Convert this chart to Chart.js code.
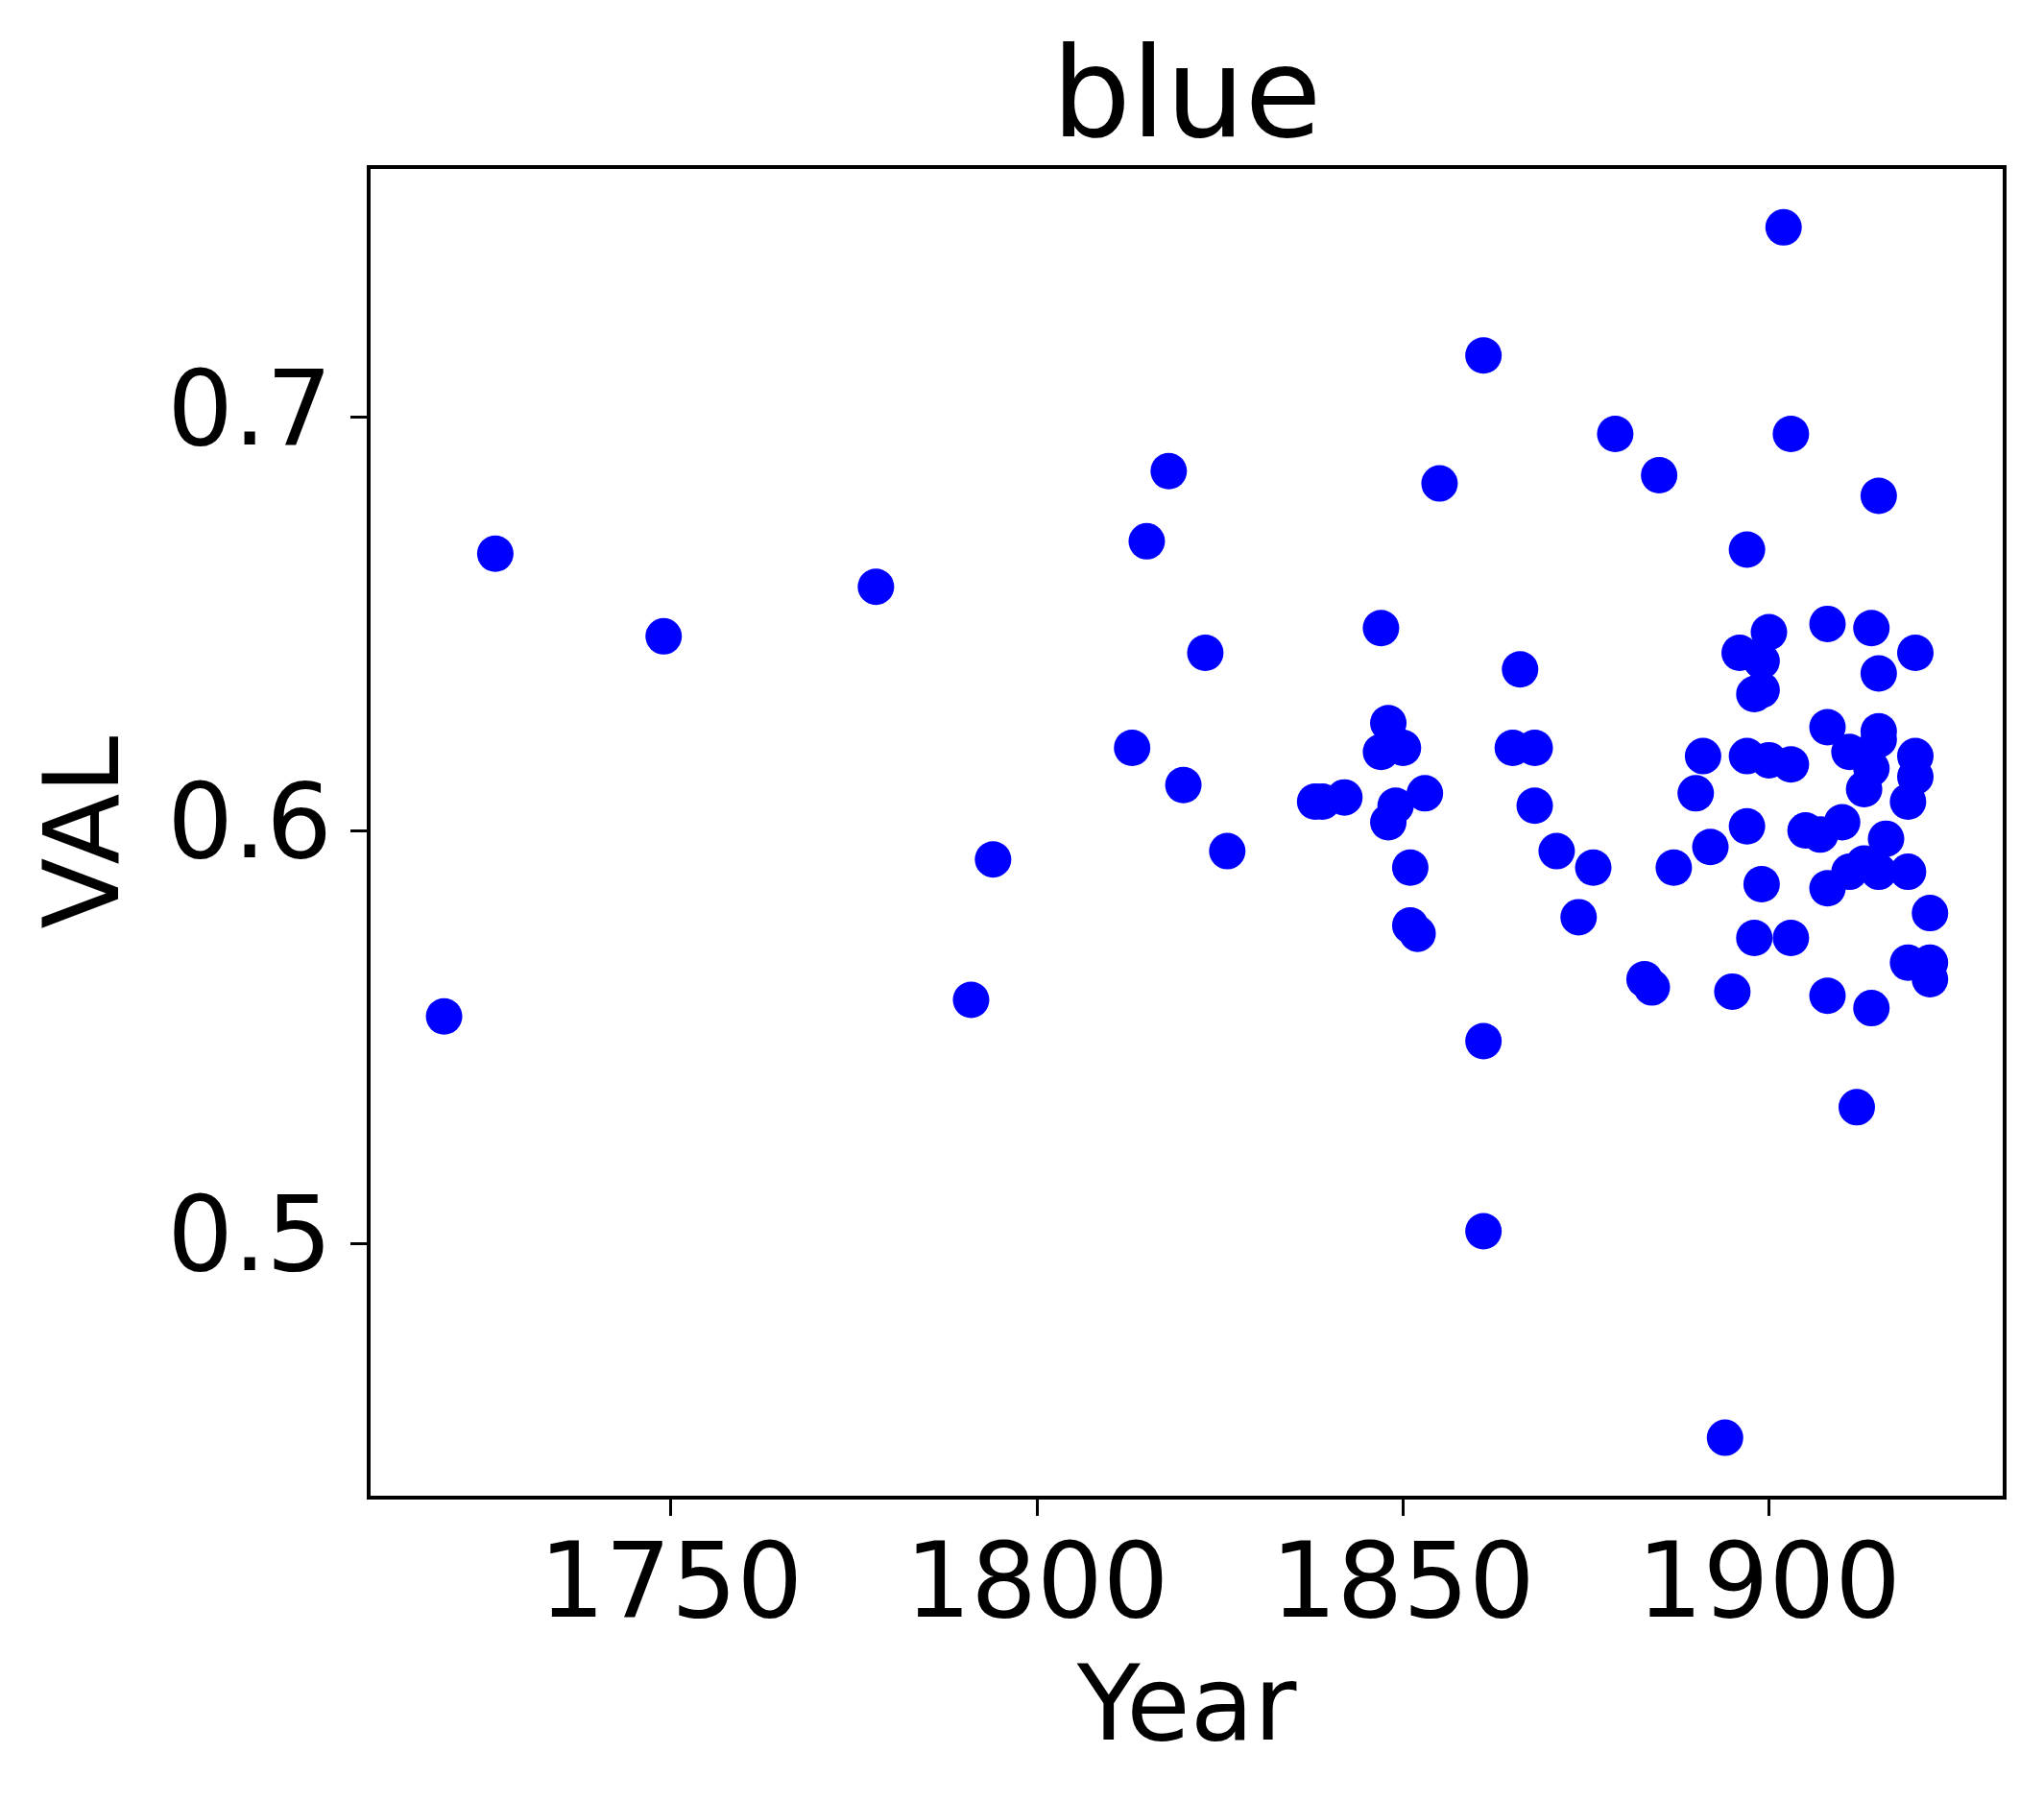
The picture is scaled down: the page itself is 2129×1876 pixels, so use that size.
<!DOCTYPE html>
<html>
<head>
<meta charset="utf-8">
<title>blue</title>
<script src="https://cdn.jsdelivr.net/npm/chart.js@4/dist/chart.umd.min.js"></script>
<style>
  html, body { margin: 0; padding: 0; background: #fff; }
  #wrap { width: 2129px; height: 1876px; position: relative; }
</style>
</head>
<body>
<div id="wrap"><canvas id="chart"></canvas></div>
<script>
'use strict';

// ── Data ─────────────────────────────────────────────────────────────────────
const years = [
  1719, 1726, 1749, 1778, 1791, 1794, 1813, 1815, 1818, 1820,
  1823, 1826, 1838, 1839, 1842, 1847, 1848, 1847, 1850, 1849,
  1853, 1848, 1851, 1851, 1852, 1855, 1861, 1861, 1861, 1865,
  1866, 1868, 1868, 1871, 1874, 1876, 1879, 1883, 1884, 1885,
  1887, 1890, 1891, 1892, 1894, 1895, 1896, 1897, 1897, 1897,
  1898, 1898, 1899, 1899, 1899, 1900, 1900, 1902, 1903, 1903,
  1903, 1905, 1907, 1908, 1908, 1908, 1908, 1910, 1911, 1911,
  1912, 1913, 1914, 1913, 1914, 1914, 1915, 1915, 1915, 1915,
  1915, 1916, 1919, 1919, 1919, 1920, 1920, 1920, 1922, 1922,
  1922,
];
const vals = [
  0.555, 0.667, 0.647, 0.659, 0.559, 0.593, 0.620, 0.670, 0.687, 0.611,
  0.643, 0.595, 0.607, 0.607, 0.608, 0.649, 0.626, 0.619, 0.620, 0.606,
  0.609, 0.602, 0.591, 0.577, 0.575, 0.684, 0.715, 0.549, 0.503, 0.620,
  0.639, 0.620, 0.606, 0.595, 0.579, 0.591, 0.696, 0.564, 0.562, 0.686,
  0.591, 0.609, 0.618, 0.596, 0.453, 0.561, 0.643, 0.668, 0.618, 0.601,
  0.633, 0.574, 0.641, 0.634, 0.587, 0.648, 0.617, 0.746, 0.616, 0.574,
  0.696, 0.600, 0.599, 0.650, 0.625, 0.586, 0.560, 0.602, 0.619, 0.590,
  0.533, 0.610, 0.615, 0.592, 0.649, 0.557, 0.638, 0.624, 0.622, 0.590,
  0.681, 0.598, 0.607, 0.590, 0.568, 0.618, 0.613, 0.643, 0.580, 0.568,
  0.564,
];
const xTicks = [1750, 1800, 1850, 1900];
const yTicks = [0.5, 0.6, 0.7];

// ── Styling ───────────────────────────────────────────────────────────────────
const FONT = "'DejaVu Sans', sans-serif";
const TICK_LEN = 19;

// frame around the plot area, like matplotlib spines
const framePlugin = {
  id: 'frame',
  afterDatasetsDraw(chart) {
    const { ctx, chartArea: a } = chart;
    ctx.save();
    ctx.strokeStyle = '#000';
    ctx.lineWidth = 4;
    ctx.strokeRect(a.left, a.top, a.right - a.left, a.bottom - a.top);
    ctx.restore();
  },
};

const tickGrid = {
  display: true,
  drawOnChartArea: false,
  drawTicks: true,
  tickLength: TICK_LEN,
  tickColor: '#000',
  tickWidth: 3,
};

new Chart(document.getElementById('chart'), {
  type: 'scatter',
  data: {
    datasets: [{
      data: years.map((y, i) => ({ x: y, y: vals[i] })),
      backgroundColor: '#0000ff',
      borderWidth: 0,
      pointRadius: 19,
      pointHoverRadius: 19,
    }],
  },
  options: {
    responsive: true,
    maintainAspectRatio: false,
    devicePixelRatio: 1,
    animation: false,
    events: [],
    layout: { padding: { top: 0, right: 41, bottom: 0, left: 0 } },
    plugins: {
      legend: { display: false },
      tooltip: { enabled: false },
      title: {
        display: true,
        fullSize: false,
        text: 'blue',
        color: '#000',
        font: { family: FONT, size: 130, weight: 'normal', lineHeight: 1.0 },
        padding: { top: 43, bottom: 1 },
      },
    },
    scales: {
      x: {
        type: 'linear',
        min: 1708.7,
        max: 1932.2,
        grid: tickGrid,
        border: { display: false },
        afterBuildTicks: s => { s.ticks = xTicks.map(v => ({ value: v })); },
        afterFit: s => { s.height = 316; },
        ticks: {
          color: '#000',
          padding: 12,
          maxRotation: 0,
          font: { family: FONT, size: 108 },
          callback: v => String(v),
        },
        title: {
          display: true,
          text: 'Year',
          color: '#000',
          font: { family: FONT, size: 108, lineHeight: 1.2 },
          padding: { top: 0, bottom: 27 },
        },
      },
      y: {
        type: 'linear',
        min: 0.4385,
        max: 0.7606,
        grid: tickGrid,
        border: { display: false },
        afterBuildTicks: s => { s.ticks = yTicks.map(v => ({ value: v })); },
        afterFit: s => { s.width = 384; },
        ticks: {
          color: '#000',
          padding: 19,
          font: { family: FONT, size: 108 },
          callback: v => v.toFixed(1),
        },
        title: {
          display: true,
          text: 'VAL',
          color: '#000',
          font: { family: FONT, size: 108, lineHeight: 1.2 },
          padding: { top: 30, bottom: 0 },
        },
      },
    },
  },
  plugins: [framePlugin],
});
</script>
</body>
</html>
